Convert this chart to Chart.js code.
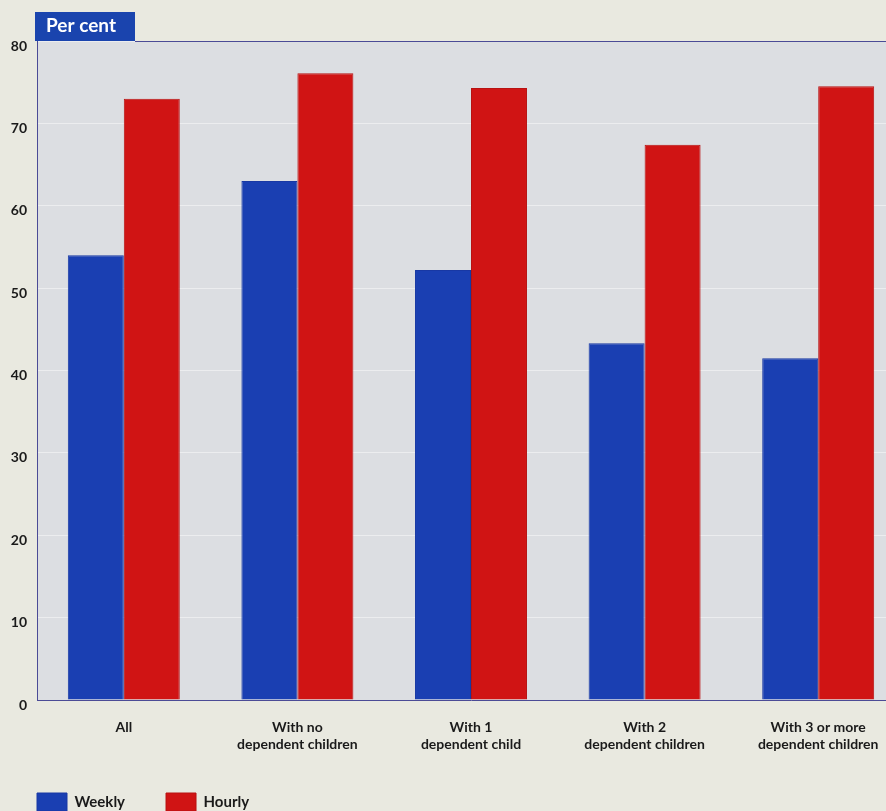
<!DOCTYPE html>
<html>
<head>
<meta charset="utf-8">
<title>Per cent</title>
<script src="https://cdn.jsdelivr.net/npm/chart.js@4/dist/chart.umd.min.js"></script>
<style>
    html, body {
        margin: 0;
        padding: 0;
        width: 886px;
        height: 811px;
        overflow: hidden;
        background: #e9e9e0;
    }
    #wrap {
        position: absolute;
        left: -4px;
        top: 0;
        width: 909px;
        height: 821px;
    }
</style>
</head>
<body>
<div id="wrap"><canvas id="chart"></canvas></div>
<script>
const categories = [
    ['All'],
    ['With no', 'dependent children'],
    ['With 1', 'dependent child'],
    ['With 2', 'dependent children'],
    ['With 3 or more', 'dependent children']
];
const weekly = [54, 63, 52.2, 43.3, 41.5];
const hourly = [73, 76.1, 74.3, 67.4, 74.5];
const yTicks = [0, 10, 20, 30, 40, 50, 60, 70, 80];

const FONT = 'Lato, "DejaVu Sans", sans-serif';
const AXIS = '#4b4b96';

// plot background, the "Per cent" tab and the top rule
const frame = {
    id: 'frame',
    beforeDraw(chart) {
        const {ctx, chartArea: a} = chart;
        ctx.save();
        ctx.fillStyle = '#dcdee2';
        ctx.fillRect(a.left, a.top, a.right - a.left, a.bottom - a.top);
        ctx.restore();
    },
    afterDraw(chart) {
        const {ctx, chartArea: a} = chart;
        const tabL = a.left - 2, tabR = a.left + 98, tabT = a.top - 29;
        ctx.save();
        ctx.fillStyle = '#1a44ae';
        ctx.fillRect(tabL, tabT, tabR - tabL, a.top - tabT);
        ctx.fillStyle = '#ffffff';
        ctx.font = 'bold 19px ' + FONT;
        ctx.textBaseline = 'middle';
        ctx.fillText('Per cent', tabL + 11, tabT + 14);
        ctx.strokeStyle = AXIS;
        ctx.lineWidth = 1;
        ctx.beginPath();
        ctx.moveTo(tabR, a.top + 0.5);
        ctx.lineTo(a.right, a.top + 0.5);
        ctx.stroke();
        ctx.restore();
    }
};

new Chart(document.getElementById('chart'), {
    type: 'bar',
    data: {
        labels: categories,
        datasets: [{
            label: 'Weekly',
            data: weekly,
            backgroundColor: '#1a3fb2',
            borderColor: '#1838a4',
            borderWidth: 1
        }, {
            label: 'Hourly',
            data: hourly,
            backgroundColor: '#d01414',
            borderColor: '#b81212',
            borderWidth: 1
        }]
    },
    options: {
        responsive: true,
        maintainAspectRatio: false,
        animation: false,
        layout: {padding: {top: 41, left: 0, right: 0, bottom: 0}},
        datasets: {bar: {categoryPercentage: 0.645, barPercentage: 1.0}},
        plugins: {
            tooltip: {enabled: false},
            legend: {
                position: 'bottom',
                align: 'start',
                labels: {
                    boxWidth: 30,
                    boxHeight: 18,
                    padding: 41,
                    color: '#1a1a1a',
                    font: {family: FONT, size: 15, weight: 'bold'}
                }
            }
        },
        scales: {
            x: {
                grid: {display: false, drawTicks: false},
                border: {color: AXIS, width: 1},
                ticks: {
                    padding: 19,
                    color: '#1a1a1a',
                    maxRotation: 0,
                    autoSkip: false,
                    font: {family: FONT, size: 14, weight: 'bold', lineHeight: 1.2}
                },
                afterFit(scale) { scale.height = 52; }
            },
            y: {
                min: 0,
                max: 80,
                afterBuildTicks(scale) {
                    scale.ticks = yTicks.map(v => ({value: v}));
                },
                grid: {color: 'rgba(255,255,255,0.45)', drawTicks: false},
                border: {color: AXIS, width: 1},
                ticks: {
                    padding: 10,
                    labelOffset: 5,
                    color: '#1a1a1a',
                    font: {family: FONT, size: 14, weight: 'bold'}
                },
                afterFit(scale) { scale.width = 41; }
            }
        }
    },
    plugins: [frame]
});
</script>
</body>
</html>
